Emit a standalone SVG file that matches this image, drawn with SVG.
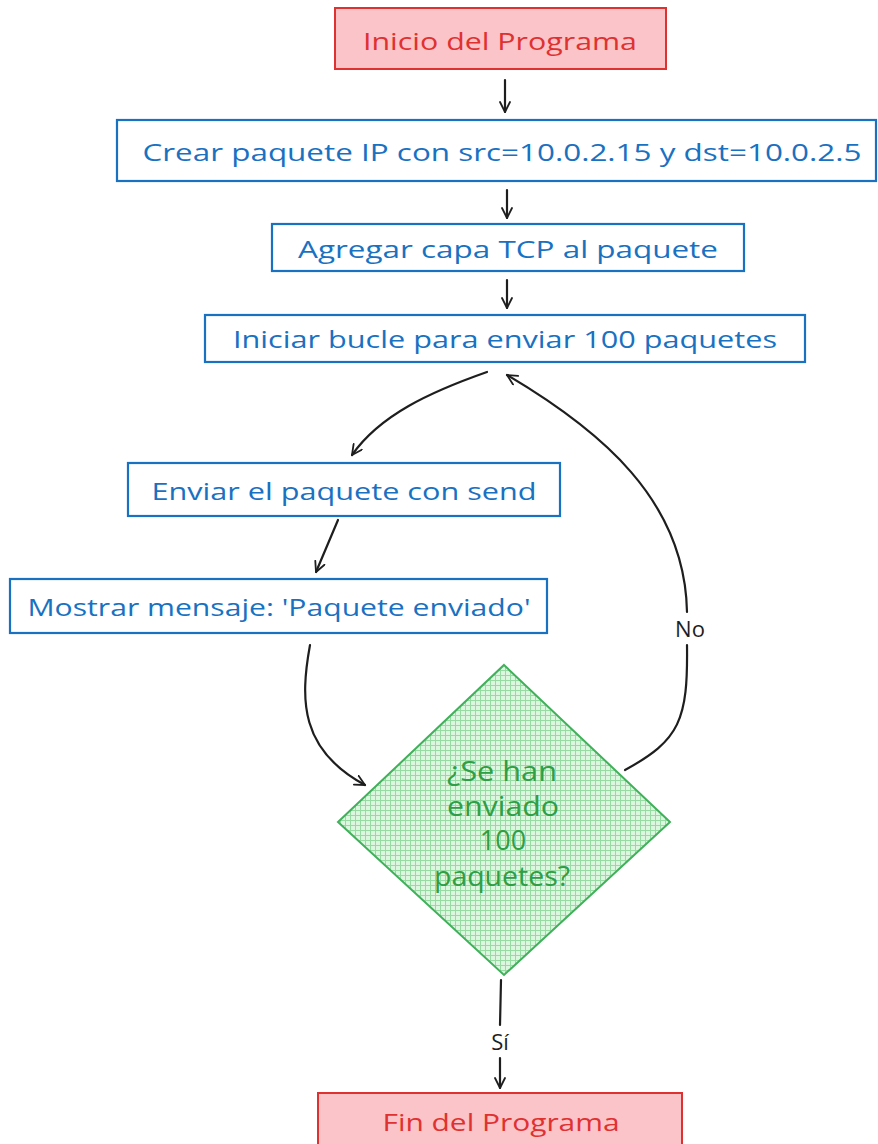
<svg xmlns="http://www.w3.org/2000/svg" width="878" height="1144" viewBox="0 0 878 1144">
<defs>
<style>
.red{fill:#fbc4c8;stroke:#e03131;stroke-width:2}
.blue{fill:#ffffff;stroke:#1971c2;stroke-width:2.2}
.tr{fill:#e03131;font-family:"Open Sans","Liberation Sans",sans-serif;font-size:24px;text-anchor:middle;dominant-baseline:central}
.tb{fill:#1971c2;font-family:"Open Sans","Liberation Sans",sans-serif;font-size:24px;text-anchor:middle;dominant-baseline:central}
.tg{fill:#2f9e44;font-family:"Open Sans","Liberation Sans",sans-serif;font-size:27px;text-anchor:middle;dominant-baseline:central}
.tk{fill:#1e1e1e;font-family:"Open Sans","Liberation Sans",sans-serif;font-size:22px;text-anchor:middle;dominant-baseline:central}
.c{fill:none;stroke:#1e1e1e;stroke-width:2.2;stroke-linecap:round}
</style>
<pattern id="hatch" width="5" height="5" patternUnits="userSpaceOnUse">
<rect width="5" height="5" fill="#dcf6e0"/>
<path d="M0,0.5 H5 M0.5,0 V5" stroke="#96dba2" stroke-width="1"/>
</pattern>
<marker id="ah" viewBox="0 0 12 12" refX="11" refY="6" markerWidth="12" markerHeight="12" markerUnits="userSpaceOnUse" orient="auto">
<path d="M1,1 L11,6 L1,11" fill="none" stroke="#1e1e1e" stroke-width="1.8" stroke-linecap="round" stroke-linejoin="round"/>
</marker>
</defs>
<g id="connectors">
<path class="c" d="M505,80 L505,112" marker-end="url(#ah)"/>
<path class="c" d="M507,190 L507,218" marker-end="url(#ah)"/>
<path class="c" d="M507,280 L507,308" marker-end="url(#ah)"/>
<path class="c" d="M487,372 C430,392 380,415 352,455" marker-end="url(#ah)"/>
<path class="c" d="M338,520 L316,572" marker-end="url(#ah)"/>
<path class="c" d="M310,645 C300,700 300,750 365,785" marker-end="url(#ah)"/>
<path class="c" d="M625,770 C680,740 688,720 687,645"/>
<path class="c" d="M687,612 C685,500 600,430 507,375" marker-end="url(#ah)"/>
<path class="c" d="M501,980 L500,1025"/>
<path class="c" d="M500,1058 L500,1088" marker-end="url(#ah)"/>
</g>
<g id="inicio">
<rect class="red" x="335" y="8" width="331" height="61"/>
<text class="tr" x="500" y="40" textLength="274" lengthAdjust="spacingAndGlyphs">Inicio del Programa</text>
</g>
<g id="crear">
<rect class="blue" x="117" y="120" width="759" height="61"/>
<text class="tb" x="502" y="151" textLength="719" lengthAdjust="spacingAndGlyphs">Crear paquete IP con src=10.0.2.15 y dst=10.0.2.5</text>
</g>
<g id="agregar">
<rect class="blue" x="272" y="224" width="472" height="47"/>
<text class="tb" x="508" y="248" textLength="420" lengthAdjust="spacingAndGlyphs">Agregar capa TCP al paquete</text>
</g>
<g id="iniciar">
<rect class="blue" x="205" y="315" width="600" height="47"/>
<text class="tb" x="505" y="338" textLength="544" lengthAdjust="spacingAndGlyphs">Iniciar bucle para enviar 100 paquetes</text>
</g>
<g id="enviar">
<rect class="blue" x="128" y="463" width="432" height="53"/>
<text class="tb" x="344" y="490" textLength="385" lengthAdjust="spacingAndGlyphs">Enviar el paquete con send</text>
</g>
<g id="mostrar">
<rect class="blue" x="10" y="579" width="537" height="54"/>
<text class="tb" x="279" y="606" textLength="503" lengthAdjust="spacingAndGlyphs">Mostrar mensaje: 'Paquete enviado'</text>
</g>
<g id="decision">
<path d="M504,665 L670,822 L504,975 L338,822 Z" fill="url(#hatch)" stroke="#40b05a" stroke-width="2"/>
<text class="tg" x="502" y="770" textLength="110" lengthAdjust="spacingAndGlyphs">¿Se han</text>
<text class="tg" x="503" y="805" textLength="112" lengthAdjust="spacingAndGlyphs">enviado</text>
<text class="tg" x="503" y="839">100</text>
<text class="tg" x="502" y="875" textLength="136" lengthAdjust="spacingAndGlyphs">paquetes?</text>
</g>
<g id="labels">
<text class="tk" x="690" y="628">No</text>
<text class="tk" x="500" y="1041">Sí</text>
</g>
<g id="fin">
<rect class="red" x="318" y="1093" width="364" height="60"/>
<text class="tr" x="501" y="1121" textLength="237" lengthAdjust="spacingAndGlyphs">Fin del Programa</text>
</g>
</svg>
